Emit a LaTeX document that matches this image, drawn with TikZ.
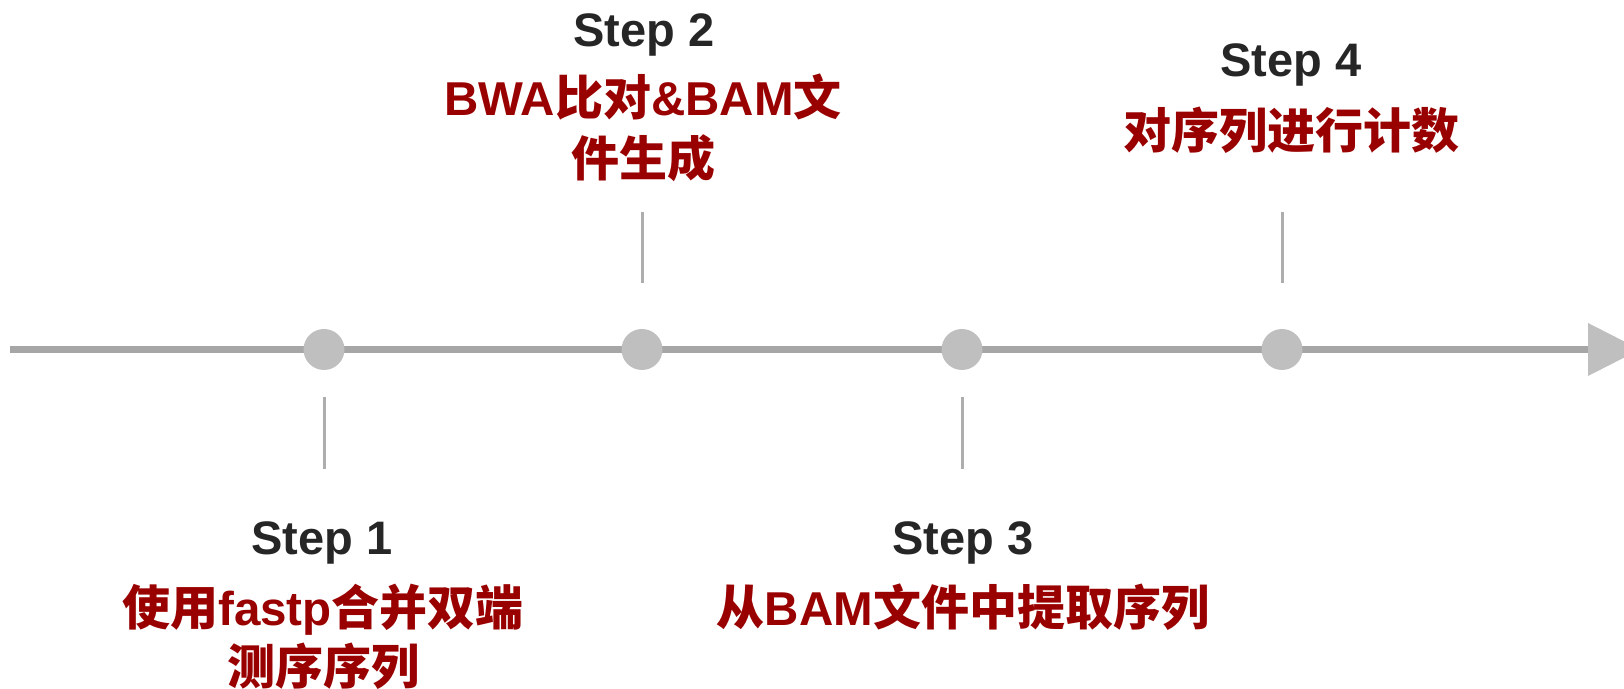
\documentclass[tikz,border=0pt]{standalone}
\usepackage{fontspec}
\setmainfont{Liberation Sans}
\newfontfamily\cjk{Noto Sans CJK SC}
\definecolor{axisgray}{HTML}{A6A6A6}
\definecolor{dotgray}{HTML}{BFBFBF}
\definecolor{tickgray}{HTML}{ADADAD}
\definecolor{stepdark}{HTML}{262626}
\definecolor{descred}{HTML}{990000}
\begin{document}
\begin{tikzpicture}[x=1pt,y=1pt,
  steplabel/.style={inner sep=0pt,anchor=base,text=stepdark,font=\fontsize{47}{56}\selectfont\bfseries},
  desc/.style={inner sep=0pt,anchor=base,text=descred,font=\fontsize{47.5}{56}\selectfont\bfseries},
  dotmark/.style={circle,fill=dotgray,minimum size=41pt,inner sep=0pt},
  tickline/.style={draw=tickgray,line width=3pt},
  axisline/.style={draw=axisgray,line width=7.5pt},
]
\newcommand{\cj}[1]{{\cjk\fontsize{48}{56}\selectfont\bfseries #1}}
\useasboundingbox (0,0) rectangle (1624,688);
\clip (0,0) rectangle (1624,688);
% axis
\coordinate (start) at (10,338.5);
\coordinate (headbase) at (1588,338.5);
\draw[axisline] (start) -- (headbase);
\fill[dotgray] (1588,365) -- (1640,338.5) -- (1588,312) -- cycle;
% dots
\node[dotmark] (d1) at (324,338.5) {};
\node[dotmark] (d2) at (642,338.5) {};
\node[dotmark] (d3) at (962,338.5) {};
\node[dotmark] (d4) at (1282,338.5) {};
% ticks
\coordinate (t1a) at (324,291); \coordinate (t1b) at (324,219);
\coordinate (t2a) at (642,405); \coordinate (t2b) at (642,476);
\coordinate (t3a) at (962,291); \coordinate (t3b) at (962,219);
\coordinate (t4a) at (1282,405); \coordinate (t4b) at (1282,476);
\draw[tickline] (t1a) -- (t1b);
\draw[tickline] (t2a) -- (t2b);
\draw[tickline] (t3a) -- (t3b);
\draw[tickline] (t4a) -- (t4b);
% Step 1
\node[steplabel] (s1) at (322,133) {Step 1};
\node[desc] (s1a) at (323,63) {\cj{使用}fastp\cj{合并双端}};
\node[desc] (s1b) at (323,4) {\cj{测序序列}};
% Step 2
\node[steplabel] (s2) at (644,641) {Step 2};
\node[desc] (s2a) at (643,572) {BWA\cj{比对}\&BAM\cj{文}};
\node[desc] (s2b) at (643,511) {\cj{件生成}};
% Step 3
\node[steplabel] (s3) at (963,133) {Step 3};
\node[desc] (s3a) at (963,63) {\cj{从}BAM\cj{文件中提取序列}};
% Step 4
\node[steplabel] (s4) at (1291,611) {Step 4};
\node[desc] (s4a) at (1291,539) {\cj{对序列进行计数}};
\end{tikzpicture}
\end{document}
